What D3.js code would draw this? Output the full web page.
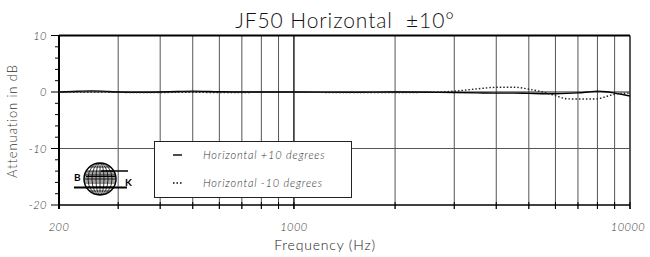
<!DOCTYPE html>
<html>
<head>
<meta charset="utf-8">
<script src="https://cdn.jsdelivr.net/npm/d3@7"></script>
<style>
  body { margin: 0; background: #fff; }
  text { font-family: Lato, "DejaVu Sans", sans-serif; }
</style>
</head>
<body>
<div id="chart"></div>
<script>
// values
const freqs   = [200, 220, 250, 280, 300, 350, 400, 450, 500, 600, 700, 800, 1000, 1500, 2000, 2500, 3000, 3500, 4000, 4500, 5000, 5500, 6000, 6500, 7000, 7500, 8000, 8500, 9000, 9500, 10000];
const plus10  = [0, 0.1, 0.2, 0.1, 0, -0.05, 0, 0.1, 0.15, 0.05, 0, 0, 0, -0.05, 0, -0.05, -0.1, -0.15, -0.2, -0.2, -0.25, -0.3, -0.3, -0.25, -0.15, 0.0, 0.15, 0.05, -0.2, -0.45, -0.7];
const minus10 = [0, 0, 0, 0, -0.05, -0.1, -0.1, -0.05, -0.05, -0.1, -0.1, -0.05, -0.05, -0.1, -0.1, -0.05, 0.15, 0.55, 0.83, 0.85, 0.5, 0.0, -0.65, -1.2, -1.25, -1.25, -1.2, -0.8, -0.4, -0.25, -0.2];
const gridFreqs = [200, 300, 400, 500, 600, 700, 800, 900, 1000, 2000, 3000, 4000, 5000, 6000, 7000, 8000, 9000, 10000];
const xLabels = [200, 1000, 10000];
const yTicks = [10, 0, -10, -20];
const yMinor = d3.range(-20, 11, 2);
const legendLabels = ["Horizontal +10 degrees", "Horizontal -10 degrees"];

const W = 650, H = 257;
const svg = d3.select("#chart").append("svg")
    .attr("width", W).attr("height", H);

const x = d3.scaleLog().domain([200, 10000]).range([59, 630]);
const y = d3.scaleLinear().domain([-20, 10]).range([205, 35.5]);

// vertical grid
svg.append("g").selectAll("line")
  .data(gridFreqs)
  .join("line")
    .attr("x1", d => x(d)).attr("x2", d => x(d))
    .attr("y1", y(10)).attr("y2", y(-20) + 4)
    .attr("stroke", d => (d === 1000 || d === 10000) ? "#111" : "#555")
    .attr("stroke-width", d => (d === 1000 || d === 10000) ? 1.4 : 1);

// horizontal grid
svg.append("line")
    .attr("x1", x(200)).attr("x2", x(10000))
    .attr("y1", y(-10)).attr("y2", y(-10))
    .attr("stroke", "#555");
svg.append("line")
    .attr("x1", x(200)).attr("x2", x(10000))
    .attr("y1", y(0)).attr("y2", y(0))
    .attr("stroke", "#222").attr("stroke-width", 1.2);

// frame
svg.append("line").attr("x1", x(200)).attr("x2", x(10000)).attr("y1", y(10)).attr("y2", y(10))
    .attr("stroke", "#000").attr("stroke-width", 2);
svg.append("line").attr("x1", x(200)).attr("x2", x(10000)).attr("y1", y(-20)).attr("y2", y(-20))
    .attr("stroke", "#000").attr("stroke-width", 1.5);
svg.append("line").attr("x1", x(200)).attr("x2", x(200)).attr("y1", y(10)).attr("y2", y(-20) + 4)
    .attr("stroke", "#000").attr("stroke-width", 2);

// bottom ticks above the axis
svg.append("g").selectAll("line")
  .data(gridFreqs)
  .join("line")
    .attr("x1", d => x(d)).attr("x2", d => x(d))
    .attr("y1", y(-20) - 3).attr("y2", y(-20) + 4)
    .attr("stroke", "#000");

// y ticks
svg.append("g").selectAll("line")
  .data(yMinor)
  .join("line")
    .attr("x1", d => yTicks.includes(d) ? 51 : 55).attr("x2", x(200))
    .attr("y1", d => y(d)).attr("y2", d => y(d))
    .attr("stroke", "#000");

svg.append("g").selectAll("text")
  .data(yTicks)
  .join("text")
    .attr("x", 47).attr("y", d => y(d) + 4)
    .attr("text-anchor", "end")
    .attr("font-size", 11).attr("font-style", "italic").attr("font-weight", 300)
    .attr("letter-spacing", 0.5)
    .attr("fill", "#333")
    .text(d => d);

svg.append("g").selectAll("text")
  .data(xLabels)
  .join("text")
    .attr("x", d => d === 10000 ? x(d) - 2 : x(d))
    .attr("y", 231)
    .attr("text-anchor", "middle")
    .attr("font-size", 11).attr("font-style", "italic").attr("font-weight", 300)
    .attr("letter-spacing", 0.5)
    .attr("fill", "#333")
    .text(d => d);

// titles
svg.append("text")
    .attr("x", 345).attr("y", 28)
    .attr("text-anchor", "middle")
    .attr("font-size", 21).attr("font-weight", 300)
    .attr("letter-spacing", 0.9)
    .attr("fill", "#111")
    .text("JF50 Horizontal \u00a0\u00b110\u00b0");

svg.append("text")
    .attr("x", 325).attr("y", 250)
    .attr("text-anchor", "middle")
    .attr("font-size", 14).attr("font-weight", 300)
    .attr("letter-spacing", 0.8)
    .attr("fill", "#222")
    .text("Frequency (Hz)");

svg.append("text")
    .attr("transform", "translate(17,121) rotate(-90)")
    .attr("text-anchor", "middle")
    .attr("font-size", 13).attr("font-weight", 300)
    .attr("letter-spacing", 0.9)
    .attr("fill", "#333")
    .text("Attenuation in dB");

// curves
const line = d3.line()
    .x((d, i) => x(freqs[i]))
    .y(d => y(d))
    .curve(d3.curveMonotoneX);

svg.append("path")
    .attr("d", line(plus10))
    .attr("fill", "none").attr("stroke", "#000").attr("stroke-width", 1.4);
svg.append("path")
    .attr("d", line(minus10))
    .attr("fill", "none").attr("stroke", "#222").attr("stroke-width", 1.4)
    .attr("stroke-dasharray", "1.5,2");

// legend
const lg = svg.append("g");
lg.append("rect")
    .attr("x", 154.5).attr("y", 141.5).attr("width", 197).attr("height", 56)
    .attr("fill", "#fff").attr("stroke", "#222");
legendLabels.forEach((t, i) => {
  const ly = 155 + i * 28;
  lg.append("line")
    .attr("x1", 173).attr("x2", 182).attr("y1", ly).attr("y2", ly)
    .attr("stroke", "#000").attr("stroke-width", 1.4)
    .attr("stroke-dasharray", i === 1 ? "1.5,2" : null);
  lg.append("text")
    .attr("x", 203).attr("y", ly + 4)
    .attr("font-size", 11).attr("font-style", "italic").attr("font-weight", 300)
    .attr("letter-spacing", 0.8)
    .attr("fill", "#333")
    .text(t);
});

// logo
const logo = svg.append("g");
const cx = 100, cy = 179, r = 16;
const clip = svg.append("clipPath").attr("id", "globe");
clip.append("circle").attr("cx", cx).attr("cy", cy).attr("r", r);
const gg = logo.append("g").attr("clip-path", "url(#globe)");
[4, 8, 12].forEach(rx => {
  gg.append("ellipse").attr("cx", cx).attr("cy", cy).attr("rx", rx).attr("ry", r)
    .attr("fill", "none").attr("stroke", "#000").attr("stroke-width", 0.8);
});
gg.append("line").attr("x1", cx).attr("x2", cx).attr("y1", cy - r).attr("y2", cy + r)
  .attr("stroke", "#000").attr("stroke-width", 0.8);
d3.range(-12, 13, 4).forEach(dy => {
  gg.append("line").attr("x1", cx - r).attr("x2", cx + r).attr("y1", cy + dy).attr("y2", cy + dy)
    .attr("stroke", "#000").attr("stroke-width", 0.8);
});
d3.range(-7, 8, 1).forEach(dx => {
  gg.append("line").attr("x1", cx + dx * 2).attr("x2", cx + dx * 2).attr("y1", 171).attr("y2", 182)
    .attr("stroke", "#000").attr("stroke-width", 0.7);
});
logo.append("circle").attr("cx", cx).attr("cy", cy).attr("r", r)
  .attr("fill", "none").attr("stroke", "#000").attr("stroke-width", 1.5);
logo.append("line").attr("x1", 101).attr("x2", 128).attr("y1", 171).attr("y2", 171)
  .attr("stroke", "#000").attr("stroke-width", 1.5);
logo.append("line").attr("x1", 86).attr("x2", 116).attr("y1", 176.5).attr("y2", 176.5)
  .attr("stroke", "#000").attr("stroke-width", 1);
logo.append("line").attr("x1", 74).attr("x2", 127).attr("y1", 187.5).attr("y2", 187.5)
  .attr("stroke", "#000").attr("stroke-width", 2);
logo.append("text").attr("x", 74).attr("y", 181).attr("font-size", 10).attr("font-weight", "bold")
  .attr("font-family", "Liberation Sans, Arial, sans-serif").text("B");
logo.append("text").attr("x", 125).attr("y", 186).attr("font-size", 10).attr("font-weight", "bold")
  .attr("font-family", "Liberation Sans, Arial, sans-serif").text("K");
</script>
</body>
</html>
